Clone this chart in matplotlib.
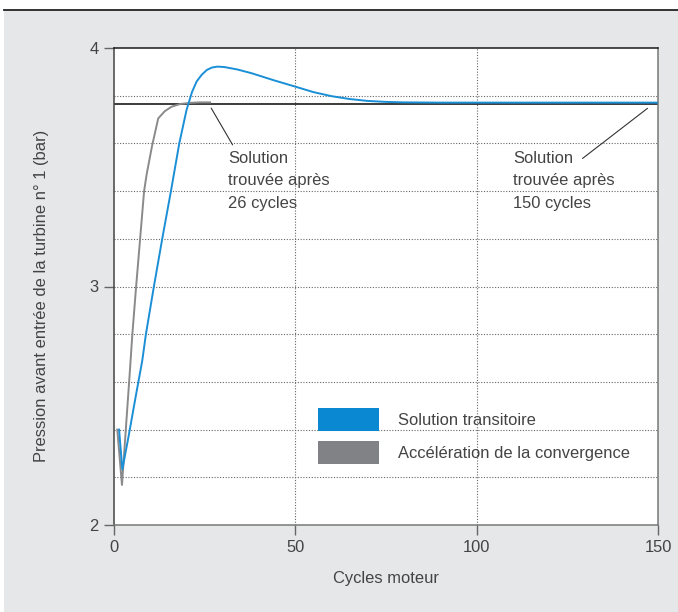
import matplotlib.pyplot as plt
from matplotlib.patches import Patch, Rectangle
from matplotlib.lines import Line2D

plt.rcParams['font.family'] = ['Liberation Sans', 'DejaVu Sans']

# transient solution (blue)
blue_x = [1.4, 2.3, 4.0, 6.0, 7.8, 8.8, 11.0, 13.3, 15.7, 18.0, 20.0, 21.5,
          22.8, 24.2, 25.6, 27.0, 28.5, 30.5, 34.0, 38.0, 44.0, 50.0, 55.0,
          60.0, 65.0, 70.0, 75.0, 80.0, 90.0, 100.0, 120.0, 150.0]
blue_y = [2.40, 2.233, 2.37, 2.54, 2.69, 2.80, 3.00, 3.20, 3.40, 3.60, 3.74,
          3.815, 3.86, 3.888, 3.908, 3.918, 3.922, 3.920, 3.910, 3.894, 3.865,
          3.838, 3.815, 3.798, 3.786, 3.778, 3.774, 3.772, 3.771, 3.771,
          3.771, 3.771]

# accelerated convergence (grey)
grey_x = [0.9, 2.2, 3.3, 4.4, 5.06, 6.1, 7.2, 8.3, 9.0, 10.5, 12.2, 14.0,
          15.9, 18.2, 21.0, 23.5, 26.5]
grey_y = [2.40, 2.168, 2.41, 2.65, 2.80, 3.00, 3.20, 3.40, 3.47, 3.59, 3.705,
          3.735, 3.754, 3.765, 3.770, 3.772, 3.772]

converged = 3.766
x_ticks = [0, 50, 100, 150]
y_ticks = [2, 3, 4]
grid_y = [2.2, 2.4, 2.6, 2.8, 3.0, 3.2, 3.4, 3.6, 3.8]
grid_x = [50, 100]

blue = '#1a8fd6'
grey = '#8a8a8c'
txt = '#444444'
bg = '#e6e7e8'
fs = 11.9

fig = plt.figure(figsize=(6.78, 6.12), dpi=100)
fig.patch.set_facecolor('white')
fig.patches.append(Rectangle((4 / 678, 0), 1, (612 - 10) / 612,
                             transform=fig.transFigure, facecolor=bg,
                             edgecolor='none', zorder=-10))
fig.lines.append(Line2D([4 / 678, 1], [(612 - 10) / 612] * 2,
                        transform=fig.transFigure, color='#222222', lw=1.3))

ax = fig.add_axes([114 / 678, 87 / 612, 544 / 678, 477 / 612])
ax.set_facecolor('white')

for gy in grid_y:
    ax.axhline(gy, color='#666666', lw=0.8, ls=(0, (1, 1.5)), zorder=1)
for gx in grid_x:
    ax.axvline(gx, color='#666666', lw=0.8, ls=(0, (1, 1.5)), zorder=1)

ax.axhline(converged, color='#1a1a1a', lw=1.2, zorder=2)
ax.plot(grey_x, grey_y, color=grey, lw=1.4, zorder=3)
ax.plot(blue_x, blue_y, color=blue, lw=1.4, zorder=4)

ax.set_xlim(0, 150)
ax.set_ylim(2, 4)
ax.set_xticks(x_ticks)
ax.set_yticks(y_ticks)
ax.tick_params(axis='both', direction='out', length=7, width=1,
               color='#666666', labelcolor=txt, labelsize=fs, pad=4)

ax.spines['top'].set_color('#1a1a1a')
ax.spines['left'].set_color('#444444')
ax.spines['bottom'].set_color('#777777')
ax.spines['right'].set_color('#777777')
for s in ax.spines.values():
    s.set_linewidth(1.1)

ax.set_xlabel('Cycles moteur', fontsize=fs, color=txt, labelpad=11)
ax.set_ylabel('Pression avant entrée de la turbine n° 1 (bar)', fontsize=fs,
              color=txt)
ax.yaxis.set_label_coords(-0.12, 0.48)

# leader lines and their notes
lead = dict(arrowstyle='-', color='#333333', lw=0.8, shrinkA=0, shrinkB=0)
ax.annotate('', xy=(26.8, 3.748), xytext=(32.7, 3.594), arrowprops=lead)
ax.annotate('', xy=(147.1, 3.747), xytext=(129.2, 3.537), arrowprops=lead)
ax.text(31.5, 3.567, 'Solution\ntrouvée après\n26 cycles', fontsize=fs,
        color=txt, va='top', linespacing=1.6)
ax.text(110.0, 3.567, 'Solution\ntrouvée après\n150 cycles', fontsize=fs,
        color=txt, va='top', linespacing=1.6)

handles = [Patch(facecolor='#0a88d2', edgecolor='none'),
           Patch(facecolor='#808285', edgecolor='none')]
ax.legend(handles, ['Solution transitoire', 'Accélération de la convergence'],
          loc='upper left', bbox_to_anchor=(0.375, 0.2453), frameon=False,
          borderpad=0, borderaxespad=0, handlelength=3.7, handleheight=1.75,
          handletextpad=1.15, labelspacing=0.6, fontsize=fs, labelcolor=txt)

fig.savefig('out.png', dpi=100, facecolor=fig.get_facecolor())
